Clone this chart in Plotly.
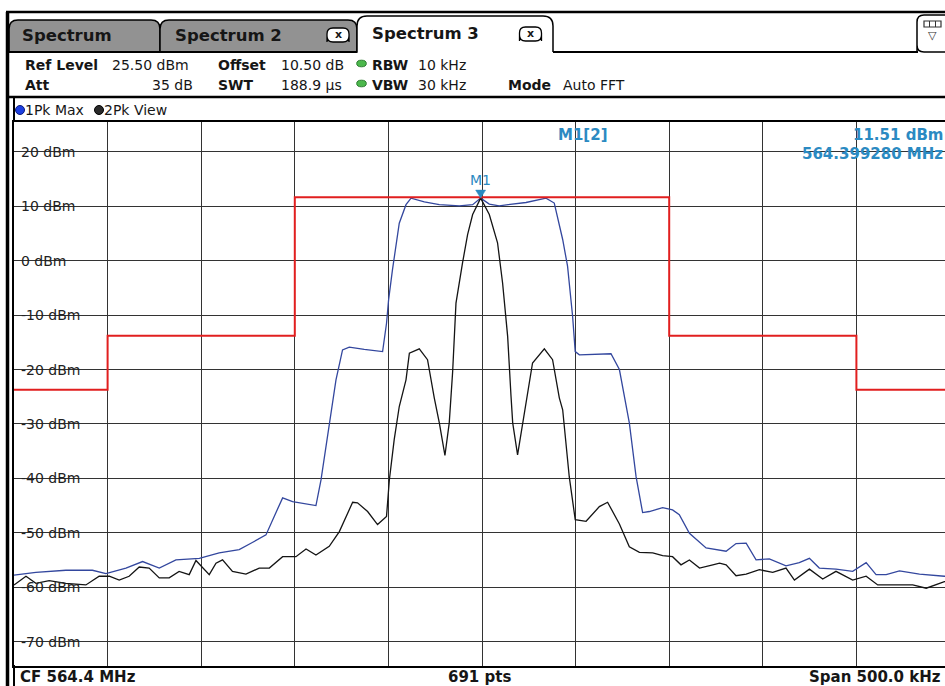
import plotly.graph_objects as go

# ---------------- data ----------------
CENTER_MHZ = 564.4
SPAN_KHZ = 500.0
REF_LEVEL_DBM = 25.5
BOTTOM_LEVEL_DBM = -74.5

level_ticks_dbm = [20, 10, 0, -10, -20, -30, -40, -50, -60, -70]
level_tick_labels = ["20 dBm", "10 dBm", "0 dBm", "-10 dBm", "-20 dBm",
                     "-30 dBm", "-40 dBm", "-50 dBm", "-60 dBm", "-70 dBm"]
freq_grid_offsets_khz = [-200, -150, -100, -50, 0, 50, 100, 150, 200]

# Trace 1: Pk Max (blue)
pk_max_offset_khz = [-250, -238.3, -222.3, -208.1, -200.9, -190.2, -181.3, -172.4, -163.5, -151.0,
                     -140.4, -129.7, -122.7, -115.4, -111.0, -106.5, -101.2, -95.0, -88.7, -86.0,
                     -81.6, -78.0, -74.5, -70.9, -62.9, -53.1, -51.0, -49.9, -47.8, -44.2,
                     -40.6, -37.9, -30.8, -22.8, -12.1, -5.0, -0.72, 3.9, 9.2, 23.5,
                     34.2, 38.6, 43.1, 45.7, 48.4, 49.8, 52.0, 62.7, 68.9, 73.4,
                     76.0, 78.7, 82.3, 85.8, 89.4, 96.5, 101.8, 105.4, 110.8, 119.7,
                     130.4, 135.7, 141.1, 146.4, 153.5, 162.4, 169.5, 174.9, 180.2, 189.1,
                     198.0, 205.2, 210.5, 215.9, 223.0, 233.7, 247.0, 250.0]
pk_max_level_dbm = [-57.8, -57.3, -56.9, -56.9, -57.5, -56.5, -55.3, -56.5, -55.0, -54.7,
                    -53.7, -53.1, -51.8, -50.4, -47.0, -43.6, -44.3, -44.6, -45.0, -40.3,
                    -29.8, -21.9, -16.4, -15.9, -16.3, -16.7, -11.5, -7.2, -1.6, 6.9,
                    10.3, 11.5, 10.8, 10.3, 10.1, 10.3, 11.51, 10.4, 10.1, 10.7,
                    11.5, 10.6, 3.9, -1.0, -10.2, -16.7, -17.3, -17.2, -17.1, -20.0,
                    -24.9, -29.8, -39.7, -46.3, -46.1, -45.4, -45.8, -46.7, -50.1, -52.8,
                    -53.4, -52.0, -51.9, -55.0, -54.8, -56.1, -55.5, -54.7, -56.5, -56.7,
                    -57.1, -55.5, -57.7, -57.7, -57.0, -57.6, -58.0, -58.0]

# Trace 2: Pk View (black)
pk_view_offset_khz = [-250, -243.6, -238.3, -231.2, -222.3, -211.6, -204.5, -199.1, -193.8, -188.5,
                      -183.1, -177.8, -172.4, -167.1, -161.8, -156.4, -152.8, -145.7, -142.1, -138.6,
                      -133.3, -126.1, -119.0, -113.6, -106.5, -99.4, -94.0, -88.7, -81.6, -76.2,
                      -69.1, -66.5, -61.1, -55.8, -51.0, -49.5, -46.9, -44.2, -40.6, -38.8,
                      -33.5, -29.1, -25.5, -22.8, -19.8, -17.5, -15.7, -13.9, -10.4, -7.7,
                      -5.0, -0.72, 3.9, 8.3, 11.0, 13.7, 15.5, 16.4, 19.0, 21.7,
                      25.3, 27.0, 33.3, 37.7, 41.3, 43.1, 46.6, 49.8, 55.6, 62.7,
                      67.1, 73.4, 78.7, 84.1, 91.2, 96.5, 101.8, 106.3, 110.8, 116.2,
                      123.3, 126.9, 130.4, 135.7, 141.1, 148.2, 155.3, 162.4, 166.9, 174.9,
                      182.0, 189.1, 198.0, 205.2, 211.4, 219.4, 230.1, 237.3, 247.0, 250.0]
pk_view_level_dbm = [-59.6, -58.0, -59.3, -58.8, -59.3, -59.6, -58.0, -58.0, -58.7, -58.0,
                     -56.3, -56.5, -58.3, -58.3, -57.1, -57.7, -55.1, -57.7, -55.6, -55.0,
                     -57.1, -57.6, -56.5, -56.5, -54.4, -54.4, -53.0, -54.1, -52.5, -49.8,
                     -44.4, -44.5, -46.1, -48.5, -47.0, -40.3, -32.9, -26.8, -21.9, -17.0,
                     -16.2, -18.2, -25.2, -29.8, -35.8, -29.8, -20.5, -7.8, -0.4, 4.8,
                     8.5, 11.51, 8.5, 3.3, -4.1, -13.9, -24.9, -29.8, -35.7, -29.8,
                     -21.9, -18.8, -16.2, -18.2, -25.2, -27.4, -39.7, -47.6, -47.9, -45.2,
                     -44.4, -48.4, -52.6, -53.6, -53.7, -54.2, -54.4, -55.9, -55.0, -56.5,
                     -55.9, -55.6, -55.9, -57.9, -57.6, -56.8, -57.3, -56.5, -58.7, -56.7,
                     -58.5, -57.1, -58.7, -58.0, -59.6, -59.6, -59.6, -60.2, -59.0, -59.0]

# Limit line (red)
limit_offset_khz = [-250, -200, -100, 100, 200, 250]
limit_level_dbm = [-23.7, -13.8, 11.65, -13.8, -23.7, -23.7]

# Marker M1
marker_offset_khz = -0.72
marker_level_dbm = 11.51

# ---------------- layout geometry ----------------
FIG_W, FIG_H = 945, 686
L, T, R, B = 14, 122, 0, 20
W = FIG_W - L - R
H = FIG_H - T - B
FULL_PLOT_PX = 936  # full grid width of the instrument display (partly cut off)
x_lo_khz = -SPAN_KHZ / 2
x_hi_khz = x_lo_khz + W / FULL_PLOT_PX * SPAN_KHZ
px_per_khz = FULL_PLOT_PX / SPAN_KHZ
px_per_db = H / (REF_LEVEL_DBM - BOTTOM_LEVEL_DBM)

FONT = "DejaVu Sans"
TEAL = "#2b8ac2"
BLUE = "#33479e"
INK = "#161616"


def mhz(k):
    return CENTER_MHZ + k / 1000.0


def X(px):
    return (px - L) / W


def Y(py):
    return (FIG_H - B - py) / H


shapes = []
annotations = []


def line(x0, y0, x1, y1, color="black", width=2):
    shapes.append(dict(type="line", xref="paper", yref="paper", x0=X(x0), y0=Y(y0),
                       x1=X(x1), y1=Y(y1), line=dict(color=color, width=width), layer="above"))


def rect(x0, y0, x1, y1, fill, lc="rgba(0,0,0,0)", lw=0, layer="above"):
    shapes.append(dict(type="rect", xref="paper", yref="paper", x0=X(x0), y0=Y(y0),
                       x1=X(x1), y1=Y(y1), fillcolor=fill, line=dict(color=lc, width=lw), layer=layer))


def circle(cx, cy, rx, ry, fill, lc):
    shapes.append(dict(type="circle", xref="paper", yref="paper", x0=X(cx - rx), y0=Y(cy + ry),
                       x1=X(cx + rx), y1=Y(cy - ry), fillcolor=fill, line=dict(color=lc, width=1),
                       layer="above"))


def rounded(x0, y0, x1, y1, r, closed=True):
    p = (f"M {X(x0)},{Y(y1)} L {X(x0)},{Y(y0 + r)} Q {X(x0)},{Y(y0)} {X(x0 + r)},{Y(y0)} "
         f"L {X(x1 - r)},{Y(y0)} Q {X(x1)},{Y(y0)} {X(x1)},{Y(y0 + r)} L {X(x1)},{Y(y1)}")
    if closed:
        p += f" L {X(x1)},{Y(y1 - r)} Q {X(x1)},{Y(y1)} {X(x1 - r)},{Y(y1)} L {X(x0 + r)},{Y(y1)} " \
             f"Q {X(x0)},{Y(y1)} {X(x0)},{Y(y1 - r)} Z"
    return p


def tab(x0, x1, ytop, ybot, r, fill):
    p = (f"M {X(x0)},{Y(ybot)} L {X(x0)},{Y(ytop + r)} Q {X(x0)},{Y(ytop)} {X(x0 + r)},{Y(ytop)} "
         f"L {X(x1 - r)},{Y(ytop)} Q {X(x1)},{Y(ytop)} {X(x1)},{Y(ytop + r)} L {X(x1)},{Y(ybot)}")
    if fill != "white":
        p += " Z"
    shapes.append(dict(type="path", xref="paper", yref="paper", path=p, fillcolor=fill,
                       line=dict(color="black", width=1.5), layer="above"))


def text(s, x, y, size=14, color=INK, anchor="left", bold=False):
    annotations.append(dict(text=f"<b>{s}</b>" if bold else s, xref="paper", yref="paper",
                            x=X(x), y=Y(y), xanchor=anchor, yanchor="middle", showarrow=False,
                            borderpad=0, borderwidth=0,
                            font=dict(size=size, color=color, family=FONT)))


# ---------------- header ----------------
line(6, 12, 945, 12, width=2.5)
tab(9, 160, 20, 52, 9, "#929292")
tab(160, 357, 20, 52, 9, "#929292")
tab(357, 553, 16, 52, 10, "white")
line(6, 52, 357, 52, width=2)
line(553, 52, 918, 52, width=2)
text("Spectrum", 22, 36, size=16.5, bold=True)
text("Spectrum 2", 175, 36, size=16.5, bold=True)
text("Spectrum 3", 372, 34, size=16.5, bold=True)
for cx, cy in [(338, 35), (530.5, 34)]:
    shapes.append(dict(type="path", xref="paper", yref="paper",
                       path=rounded(cx - 11, cy - 7, cx + 11, cy + 7, 6), fillcolor="white",
                       line=dict(color="black", width=1.3), layer="above"))
    text("x", cx, cy - 0.5, size=11, anchor="center", bold=True)
# right-side icon
shapes.append(dict(type="path", xref="paper", yref="paper", path=rounded(917, 15, 955, 52, 7),
                   fillcolor="white", line=dict(color="black", width=1.5), layer="above"))
rect(924, 21, 941, 27, "white", lc="#333", lw=1.2)
line(929.5, 21, 929.5, 27, color="#333", width=1)
line(935.5, 21, 935.5, 27, color="#333", width=1)
text("▽", 932, 35, size=11, anchor="center", color="#333")

# info rows
ROW1, ROW2 = 64.5, 85
text("Ref Level", 25, ROW1, bold=True)
text("25.50 dBm", 112, ROW1)
text("Offset", 218, ROW1, bold=True)
text("10.50 dB", 281, ROW1)
text("RBW", 372, ROW1, bold=True)
text("10 kHz", 418, ROW1)
text("Att", 25, ROW2, bold=True)
text("35 dB", 193, ROW2, anchor="right")
text("SWT", 218, ROW2, bold=True)
text("188.9 µs", 281, ROW2)
text("VBW", 372, ROW2, bold=True)
text("30 kHz", 418, ROW2)
text("Mode", 508, ROW2, bold=True)
text("Auto FFT", 563, ROW2)
circle(361.5, 63.5, 4.8, 3.3, "#4cb84c", "#2e7d32")
circle(361.5, 83.5, 4.8, 3.3, "#4cb84c", "#2e7d32")
line(6, 97, 945, 97, width=2.5)

# trace legend row
circle(20, 110, 4.5, 4.5, "#1e40e0", "#0b1a7a")
text("1Pk Max", 25, 110)
circle(99, 110, 4.5, 4.5, "#2a2a2a", "#000")
text("2Pk View", 104, 110)

# frame bars
line(7.5, 12, 7.5, 686, width=3.5)
line(14, 97, 14, 122, width=2)
line(14, 665, 14, 686, width=2)

# footer
text("CF 564.4 MHz", 20, 677, size=15, bold=True)
text("691 pts", 479, 677, size=15, anchor="center", bold=True)
text("Span 500.0 kHz", 941, 677, size=15, anchor="right", bold=True)

# level labels with white gaps in the grid behind them
char_w = {"-": 0.361, " ": 0.318, "d": 0.635, "B": 0.686, "m": 0.974}
for v, lab in zip(level_ticks_dbm, level_tick_labels):
    w = sum(char_w.get(c, 0.636) for c in lab) * 14
    shapes.append(dict(type="rect", xref="paper", yref="y", x0=X(14), x1=X(20 + w + 1),
                       y0=v - 0.6, y1=v + 0.6, fillcolor="white", line=dict(width=0),
                       layer="between"))
    annotations.append(dict(text=lab, xref="paper", yref="y", x=X(20), y=v, xanchor="left",
                            yanchor="middle", showarrow=False, borderpad=0,
                            font=dict(size=14, color="#222", family=FONT)))

# marker info box (covers grid)
rect(557, 123, 960, 165, "white", layer="between")
text("M1[2]", 558, 134.5, size=15, color=TEAL, bold=True)
text("11.51 dBm", 943, 134.5, size=15, color=TEAL, anchor="right", bold=True)
text("564.399280 MHz", 943, 154, size=15, color=TEAL, anchor="right", bold=True)

# marker triangle + label (data coords)
mx = mhz(marker_offset_khz)
hw = 5 / px_per_khz / 1000.0
th = 8 / px_per_db
shapes.append(dict(type="path", xref="x", yref="y",
                   path=f"M {mx},{marker_level_dbm} L {mx - hw},{marker_level_dbm + th} "
                        f"L {mx + hw},{marker_level_dbm + th} Z",
                   fillcolor=TEAL, line=dict(color=TEAL, width=0.5), layer="above"))
annotations.append(dict(text="M1", xref="x", yref="y", x=mx, y=marker_level_dbm, yshift=18.5,
                        xanchor="center", yanchor="middle", showarrow=False, borderpad=0,
                        font=dict(size=14, color=TEAL, family=FONT)))

# ---------------- traces ----------------
fig = go.Figure()
fig.add_trace(go.Scatter(x=[mhz(k) for k in pk_max_offset_khz], y=pk_max_level_dbm,
                         mode="lines", line=dict(color=BLUE, width=1.3), name="1Pk Max",
                         cliponaxis=True))
fig.add_trace(go.Scatter(x=[mhz(k) for k in pk_view_offset_khz], y=pk_view_level_dbm,
                         mode="lines", line=dict(color="#141414", width=1.3), name="2Pk View"))
fig.add_trace(go.Scatter(x=[mhz(k) for k in limit_offset_khz], y=limit_level_dbm,
                         mode="lines", line=dict(color="#e11f1f", width=2, shape="hv"),
                         name="Limit"))

fig.update_layout(
    width=FIG_W, height=FIG_H,
    margin=dict(l=L, r=R, t=T, b=B, autoexpand=False),
    paper_bgcolor="white", plot_bgcolor="white",
    showlegend=False, hovermode=False,
    font=dict(family=FONT, color=INK),
    shapes=shapes, annotations=annotations,
    xaxis=dict(range=[mhz(x_lo_khz), mhz(x_hi_khz)],
               tickvals=[mhz(k) for k in freq_grid_offsets_khz],
               showticklabels=False, ticks="", showgrid=True, gridcolor="#333333", gridwidth=1.4,
               zeroline=False, showline=True, mirror=True, linecolor="black", linewidth=2),
    yaxis=dict(range=[BOTTOM_LEVEL_DBM, REF_LEVEL_DBM], tickvals=level_ticks_dbm,
               showticklabels=False, ticks="", showgrid=True, gridcolor="#333333", gridwidth=1.4,
               zeroline=False, showline=True, mirror=False, linecolor="black", linewidth=2),
)

fig.write_html("out.html")
